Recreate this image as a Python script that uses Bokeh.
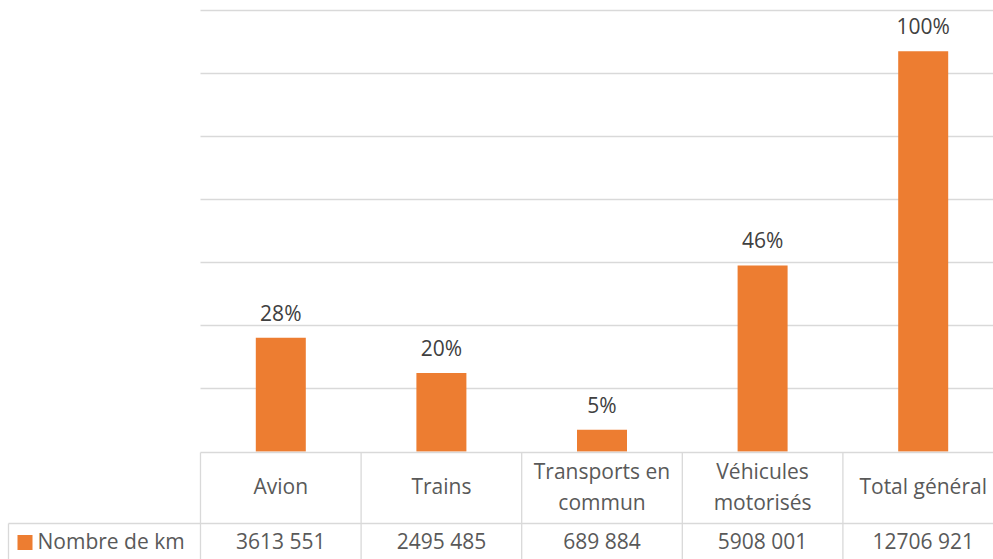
from bokeh.plotting import figure
from bokeh.models import Range1d
from bokeh.core.properties import value
from bokeh.embed import file_html
from bokeh.resources import INLINE

# Distances travelled per mode of transport
categories = ["Avion", "Trains", "Transports en\ncommun", "Véhicules\nmotorisés", "Total général"]
km = [3613551, 2495485, 689884, 5908001, 12706921]
value_labels = ["3613 551", "2495 485", "689 884", "5908 001", "12706 921"]
series_name = "Nombre de km"
grid_values = [2e6, 4e6, 6e6, 8e6, 10e6, 12e6, 14e6]

total = km[-1]
pct_labels = [f"{round(v / total * 100)}%" for v in km]

BAR = "#ED7D31"
GRID = "#D9D9D9"
FONT = value("Open Sans")
FSIZE = "21px"

W, H = 993, 559
col_w = 160.6          # px per category
left_px = 200          # left edge of the first column
base_px = 451          # y of the zero line (from top)
top_px = 10            # y of the 14M line
unit_y = 14e6 / (base_px - top_px)   # data units per px vertically

x0 = -0.5 - left_px / col_w
x1 = x0 + W / col_w
y_top = 14e6 + top_px * unit_y
y_bot = -(H - base_px) * unit_y


def y_at(px):
    """data y for a pixel row measured from the top of the canvas"""
    return -(px - base_px) * unit_y


p = figure(width=W, height=H, output_backend="svg", toolbar_location=None,
           x_range=Range1d(x0, x1), y_range=Range1d(y_bot, y_top),
           min_border=0, outline_line_color=None)
p.axis.visible = False
p.grid.visible = False

n = len(categories)
xs = list(range(n))
x_right = n - 0.5

# horizontal gridlines
p.segment(x0=[-0.5] * len(grid_values), y0=grid_values,
          x1=[x_right] * len(grid_values), y1=grid_values,
          line_color=GRID, line_width=1.3)

# bars
p.vbar(x=xs, top=km, bottom=0, width=50 / col_w, fill_color=BAR, line_color=None)

# percentage labels above bars
p.text(x=xs, y=[v + 25 * unit_y for v in km], text=pct_labels,
       text_align="center", text_baseline="middle", text_font=FONT,
       text_font_size=FSIZE, text_color="#404040")

# data table below the chart
row1 = y_at(452)
row2 = y_at(523)
row3 = y_bot
legend_left = x0 + 8 / col_w
p.segment(x0=[-0.5, legend_left], y0=[row1, row2], x1=[x_right, x_right], y1=[row1, row2],
          line_color=GRID, line_width=1.3)
vx = [-0.5 + i for i in range(n + 1)]
p.segment(x0=vx, y0=[row1] * len(vx), x1=vx, y1=[row3] * len(vx),
          line_color=GRID, line_width=1.3)
p.segment(x0=[legend_left], y0=[row2], x1=[legend_left], y1=[row3],
          line_color=GRID, line_width=1.3)

# header labels, one text per line so the spacing is fixed
hx, hy, ht = [], [], []
for i, name in enumerate(categories):
    lines = name.split("\n")
    if len(lines) == 1:
        centers = [485.5]
    else:
        centers = [470, 501.5]
    for line, c in zip(lines, centers):
        hx.append(i)
        hy.append(y_at(c))
        ht.append(line)
p.text(x=hx, y=hy, text=ht, text_align="center", text_baseline="middle",
       text_font=FONT, text_font_size=FSIZE, text_color="#595959")

# value row
val_y = y_at(540.5)
p.text(x=xs, y=[val_y] * n, text=value_labels, text_align="center",
       text_baseline="middle", text_font=FONT, text_font_size=FSIZE,
       text_color="#595959")

# legend key
key_x = x0 + 24.5 / col_w
p.rect(x=[key_x], y=[y_at(542)], width=15 / col_w, height=15 * unit_y,
       fill_color=BAR, line_color=None)
p.text(x=[x0 + 37 / col_w], y=[val_y], text=[series_name], text_align="left",
       text_baseline="middle", text_font=FONT, text_font_size=FSIZE,
       text_color="#595959")

open("out.html", "w").write(file_html(p, INLINE))
